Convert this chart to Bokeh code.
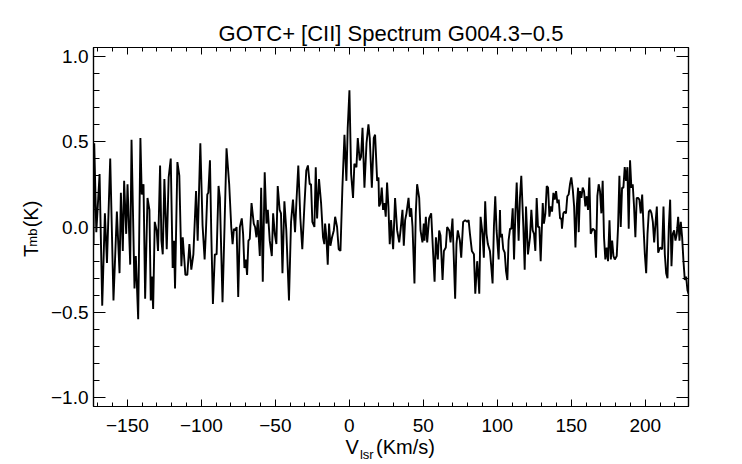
from bokeh.plotting import figure
from bokeh.models import Range1d, LinearAxis, FixedTicker, CustomJSTickFormatter
from bokeh.embed import file_html
from bokeh.resources import INLINE

# ---- data ----
vlsr = [-172.9, -172.4, -171.0, -169.7, -168.8, -167.0, -165.2, -163.8, -161.6, -159.4, -157.1,
        -155.3, -154.4, -153.1, -152.2, -150.8, -149.9, -148.1, -147.2, -146.3, -145.2,
        -144.3, -142.7, -141.2, -140.3, -139.1, -138.0, -136.4, -135.1, -134.2, -133.5,
        -132.6, -131.5, -130.2, -129.3, -127.9, -127.0, -126.1, -125.0, -123.4, -122.1,
        -120.7, -119.4, -118.5, -117.8, -116.2, -114.9, -113.5, -112.6, -110.8, -109.5,
        -108.1, -106.8, -105.4, -103.6, -102.5, -100.7, -99.2, -97.8, -96.9, -96.0,
        -95.3, -94.2, -93.3, -92.2, -90.9, -89.7, -88.4, -87.5, -85.7, -84.3,
        -83.0, -81.2, -79.8, -78.9, -78.0, -77.1, -76.2, -75.1, -74.0, -72.7,
        -71.8, -70.9, -70.0, -69.1, -68.2, -67.3, -66.1, -64.6, -63.7, -62.8,
        -61.9, -60.5, -59.6, -58.5, -57.2, -56.0, -55.1, -53.8, -52.4, -51.5,
        -50.4, -49.3, -48.4, -47.1, -46.2, -45.2, -43.9, -42.6, -40.8, -39.4,
        -38.1, -36.7, -35.8, -34.5, -33.1, -31.8, -30.4, -29.1, -28.0, -26.8,
        -25.9, -25.0, -23.6, -22.7, -21.8, -20.5, -19.1, -17.8, -16.9, -16.4,
        -15.5, -14.6, -13.7, -12.8, -11.7, -10.5, -9.6, -8.3, -7.2, -6.0,
        -4.7, -3.3, -2.0, -1.1, 0.06, 1.2, 2.5, 3.4, 4.8, 5.7,
        7.0, 7.9, 8.9, 10.2, 11.6, 12.9, 13.8, 15.2, 16.5, 17.4,
        18.8, 19.7, 20.1, 21.0, 21.9, 22.8, 23.7, 24.6, 25.5, 26.4,
        27.3, 28.2, 29.6, 30.9, 32.3, 33.7, 34.6, 35.9, 36.8, 37.7,
        38.6, 40.0, 40.9, 41.8, 42.7, 44.0, 44.9, 45.8, 47.2, 48.1,
        49.4, 50.3, 50.8, 51.7, 52.6, 53.9, 55.3, 56.2, 57.6, 58.5,
        59.8, 60.7, 61.6, 63.0, 63.9, 65.2, 66.1, 67.5, 68.4, 69.7,
        71.5, 72.4, 73.3, 74.7, 75.6, 76.9, 78.3, 79.7, 80.6, 81.5,
        82.8, 84.2, 85.1, 86.4, 87.3, 87.8, 88.7, 90.0, 90.9, 91.8,
        92.7, 93.6, 95.0, 95.9, 96.8, 97.7, 98.6, 99.5, 100.9, 101.8,
        102.2, 103.1, 104.0, 105.0, 105.9, 106.8, 107.6, 108.6, 109.5, 110.4,
        111.3, 112.2, 113.1, 114.4, 115.3, 116.2, 117.6, 118.5, 119.4, 120.7,
        122.1, 123.0, 123.9, 124.8, 125.7, 126.6, 127.5, 128.4, 129.3, 130.7,
        131.5, 132.5, 133.4, 134.3, 135.2, 136.1, 137.0, 137.9, 138.8, 139.7,
        140.6, 141.5, 142.4, 143.3, 143.7, 144.6, 145.5, 146.4, 147.3, 148.2,
        149.1, 150.0, 151.0, 151.9, 152.8, 153.7, 154.6, 155.0, 155.9, 156.8,
        157.7, 158.6, 159.5, 160.4, 161.3, 162.2, 163.1, 164.5, 165.8, 166.7,
        167.6, 168.5, 169.4, 170.3, 171.2, 172.1, 173.0, 173.9, 174.8, 175.8,
        176.7, 177.6, 178.5, 179.4, 180.7, 181.6, 182.5, 183.4, 184.3, 185.2,
        186.1, 187.0, 187.9, 188.8, 189.7, 190.6, 191.5, 192.4, 193.3, 194.2,
        195.1, 196.0, 196.9, 197.9, 198.8, 199.7, 200.6, 201.5, 202.4, 203.3,
        204.2, 205.1, 206.0, 206.9, 207.8, 208.7, 210.0, 211.4, 212.3, 213.2,
        214.1, 215.0, 215.9, 216.8, 217.7, 218.6, 219.5, 220.4, 221.3, 222.2,
        223.1, 224.0, 224.9, 225.8, 226.7, 227.6, 228.5, 229.2]

tmb = [-0.10, 0.49, -0.03, 0.17, 0.31, -0.46, 0.08, -0.21, 0.40, -0.43, 0.09,
       -0.27, 0.20, -0.14, 0.27, -0.04, 0.25, -0.22, 0.51, 0.12, -0.36,
       -0.17, -0.54, 0.52, 0.19, 0.25, -0.42, 0.17, 0.10, -0.43, -0.29,
       -0.48, 0.03, -0.02, -0.14, 0.36, -0.08, -0.16, 0.28, -0.13, 0.29,
       0.40, -0.24, -0.08, -0.36, 0.38, 0.30, -0.23, -0.06, -0.28, -0.28,
       -0.10, -0.25, -0.16, 0.21, -0.08, 0.49, 0.01, -0.19, -0.02, 0.19,
       0.20, 0.39, -0.04, -0.45, -0.16, -0.16, 0.24, 0.17, -0.44, 0.02,
       0.46, 0.25, 0.00, -0.10, -0.01, -0.02, 0.00, -0.41, 0.00, 0.05,
       -0.04, -0.24, -0.19, -0.28, -0.08, -0.07, 0.14, 0.02, 0.00, -0.06,
       0.04, -0.17, 0.23, -0.32, 0.32, 0.02, 0.10, -0.08, -0.17, 0.08,
       -0.04, -0.10, 0.24, 0.10, 0.08, -0.27, 0.15, -0.02, -0.43, 0.03,
       0.16, -0.03, 0.14, 0.36, 0.05, -0.13, 0.12, 0.33, 0.36, 0.25,
       0.25, 0.03, 0.00, 0.35, 0.05, 0.28, 0.14, -0.06, -0.10, 0.02,
       -0.06, -0.22, 0.02, -0.11, -0.06, -0.02, 0.06, 0.00, -0.13, -0.14,
       0.23, 0.54, 0.27, 0.58, 0.80, 0.31, 0.17, 0.37, 0.35, 0.52,
       0.39, 0.41, 0.58, 0.23, 0.49, 0.60, 0.52, 0.23, 0.52, 0.54,
       0.27, 0.29, 0.12, 0.14, 0.23, 0.10, 0.14, 0.06, 0.26, 0.12,
       -0.10, 0.04, -0.13, 0.17, -0.02, -0.09, -0.02, 0.10, -0.11, 0.04,
       0.08, 0.17, 0.06, 0.11, 0.00, -0.33, 0.08, 0.25, 0.17, -0.02,
       -0.09, 0.02, -0.08, 0.06, -0.09, 0.05, 0.08, -0.08, -0.32, -0.06,
       -0.19, -0.02, -0.05, -0.31, -0.14, -0.12, 0.00, -0.02, -0.09, 0.05,
       -0.42, -0.10, -0.02, -0.08, -0.18, 0.03, 0.04, 0.03, 0.04, -0.04,
       -0.14, -0.16, -0.39, -0.20, -0.31, -0.39, 0.06, -0.04, -0.18, 0.15,
       -0.04, -0.10, -0.14, -0.23, -0.33, 0.00, 0.18, -0.02, -0.19, 0.10,
       -0.06, -0.04, -0.13, -0.15, -0.26, -0.31, -0.08, -0.01, -0.01, 0.11,
       -0.19, 0.08, 0.26, -0.08, 0.17, 0.30, 0.00, -0.25, 0.12, -0.16,
       -0.06, 0.10, -0.02, -0.04, -0.14, 0.17, 0.00, 0.00, -0.20, 0.14,
       0.02, 0.08, 0.24, 0.23, 0.06, 0.12, 0.09, 0.20, 0.16, 0.21,
       0.14, 0.16, 0.05, 0.05, -0.01, 0.08, 0.09, 0.08, 0.18, 0.19,
       0.25, 0.29, 0.22, 0.12, -0.12, 0.12, 0.23, -0.03, 0.21, 0.17,
       0.23, 0.21, 0.12, 0.18, 0.10, 0.29, -0.04, -0.01, -0.02, -0.18,
       0.18, 0.25, 0.21, 0.08, 0.27, -0.06, -0.19, -0.12, -0.20, 0.04,
       -0.19, -0.08, -0.17, -0.19, -0.17, 0.00, 0.30, 0.00, 0.23, 0.23,
       0.35, 0.27, 0.35, -0.01, 0.39, 0.23, 0.25, 0.12, -0.06, 0.17,
       0.17, 0.16, 0.08, 0.19, 0.00, -0.16, -0.27, -0.04, 0.09, 0.10,
       0.08, 0.03, -0.09, 0.02, 0.12, -0.15, -0.12, -0.13, 0.12, -0.16,
       -0.27, -0.30, 0.00, 0.16, -0.23, -0.04, -0.02, -0.08, -0.04, 0.06,
       -0.08, 0.03, -0.06, -0.20, -0.31, -0.29, -0.37, -0.39]

x_major = [-150, -100, -50, 0, 50, 100, 150, 200]
x_minor = [-170, -160, -150, -140, -130, -120, -110, -100, -90, -80, -70, -60, -50, -40,
           -30, -20, -10, 0, 10, 20, 30, 40, 50, 60, 70, 80, 90, 100, 110, 120, 130,
           140, 150, 160, 170, 180, 190, 200, 210, 220]
y_major = [-1.0, -0.5, 0.0, 0.5, 1.0]
y_minor = [-1.0, -0.9, -0.8, -0.7, -0.6, -0.5, -0.4, -0.3, -0.2, -0.1, 0.0,
           0.1, 0.2, 0.3, 0.4, 0.5, 0.6, 0.7, 0.8, 0.9, 1.0]

title_text = "GOTC+ [CII] Spectrum G004.3\u22120.5"
xlabel_main = ["V", "(Km/s)"]
xlabel_sub = ["lsr"]
ylabel_main = ["T", "(K)"]
ylabel_sub = ["mb"]

FONT = "Liberation Sans"

p = figure(width=734, height=464, output_backend="svg", toolbar_location=None,
           x_range=Range1d(-172.9, 229.2), y_range=Range1d(-1.05, 1.05),
           x_axis_type=None, y_axis_type=None,
           min_border_left=93, min_border_right=46, min_border_top=47, min_border_bottom=57)
p.background_fill_color = "white"
p.border_fill_color = "white"
p.outline_line_color = "black"
p.outline_line_width = 1.2
p.grid.visible = False

p.line(vlsr, tmb, line_color="black", line_width=1.9)

xfmt = CustomJSTickFormatter(code="return tick.toFixed(0).replace('-', '\u2212');")
yfmt = CustomJSTickFormatter(code="return tick.toFixed(1).replace('-', '\u2212');")


def blank():
    return CustomJSTickFormatter(code="return '';")


def frame_axis(kind, labels):
    ax = LinearAxis(formatter=labels)
    if kind == "x":
        ax.ticker = FixedTicker(ticks=x_major, minor_ticks=x_minor)
        ax.major_tick_in, ax.minor_tick_in = 7, 4
    else:
        ax.ticker = FixedTicker(ticks=y_major, minor_ticks=y_minor)
        ax.major_tick_in, ax.minor_tick_in = 12, 6
    ax.major_tick_out = 0
    ax.minor_tick_out = 0
    ax.axis_line_color = "black"
    ax.axis_line_width = 1.2
    ax.major_tick_line_color = "black"
    ax.minor_tick_line_color = "black"
    ax.major_tick_line_width = 1
    ax.minor_tick_line_width = 1
    ax.major_label_text_font = FONT
    ax.major_label_text_font_size = "19px"
    ax.major_label_text_color = "black"
    return ax


bottom_ax = frame_axis("x", xfmt)
bottom_ax.major_label_standoff = 12
top_ax = frame_axis("x", blank())
top_ax.major_label_standoff = 0
left_ax = frame_axis("y", yfmt)
left_ax.major_label_standoff = 5
right_ax = frame_axis("y", blank())
right_ax.major_label_standoff = 0


def text_axis(positions, texts, size, standoff, vertical=False):
    ax = LinearAxis(ticker=FixedTicker(ticks=positions, minor_ticks=[]),
                    formatter=CustomJSTickFormatter(args=dict(labels=texts),
                                                    code="return labels[index];"))
    ax.axis_line_color = None
    ax.major_tick_line_color = None
    ax.minor_tick_line_color = None
    ax.major_tick_in = 0
    ax.major_tick_out = 0
    ax.minor_tick_in = 0
    ax.minor_tick_out = 0
    ax.major_label_text_font = FONT
    ax.major_label_text_font_size = size
    ax.major_label_text_color = "black"
    ax.major_label_standoff = standoff
    if vertical:
        ax.major_label_orientation = "vertical"
    return ax


# axis titles  V_lsr(Km/s)  and  T_mb(K), built from big text + smaller subscript
xl_main = text_axis([1.9, 37.9], xlabel_main, "20px", 1)
xl_sub = text_axis([11.8], xlabel_sub, "13px", -14)
yl_main = text_axis([-0.14, 0.076], ylabel_main, "20px", 5, vertical=True)
yl_sub = text_axis([-0.062], ylabel_sub, "13px", -23, vertical=True)

p.add_layout(bottom_ax, "below")
p.add_layout(xl_main, "below")
p.add_layout(xl_sub, "below")
p.add_layout(left_ax, "left")
p.add_layout(yl_main, "left")
p.add_layout(yl_sub, "left")
p.add_layout(top_ax, "above")
p.add_layout(right_ax, "right")

p.title.text = title_text
p.title.align = "center"
p.title.text_font = FONT
p.title.text_font_size = "22px"
p.title.text_font_style = "normal"
p.title.text_color = "black"
p.title.standoff = 3

open("out.html", "w").write(file_html(p, INLINE))
